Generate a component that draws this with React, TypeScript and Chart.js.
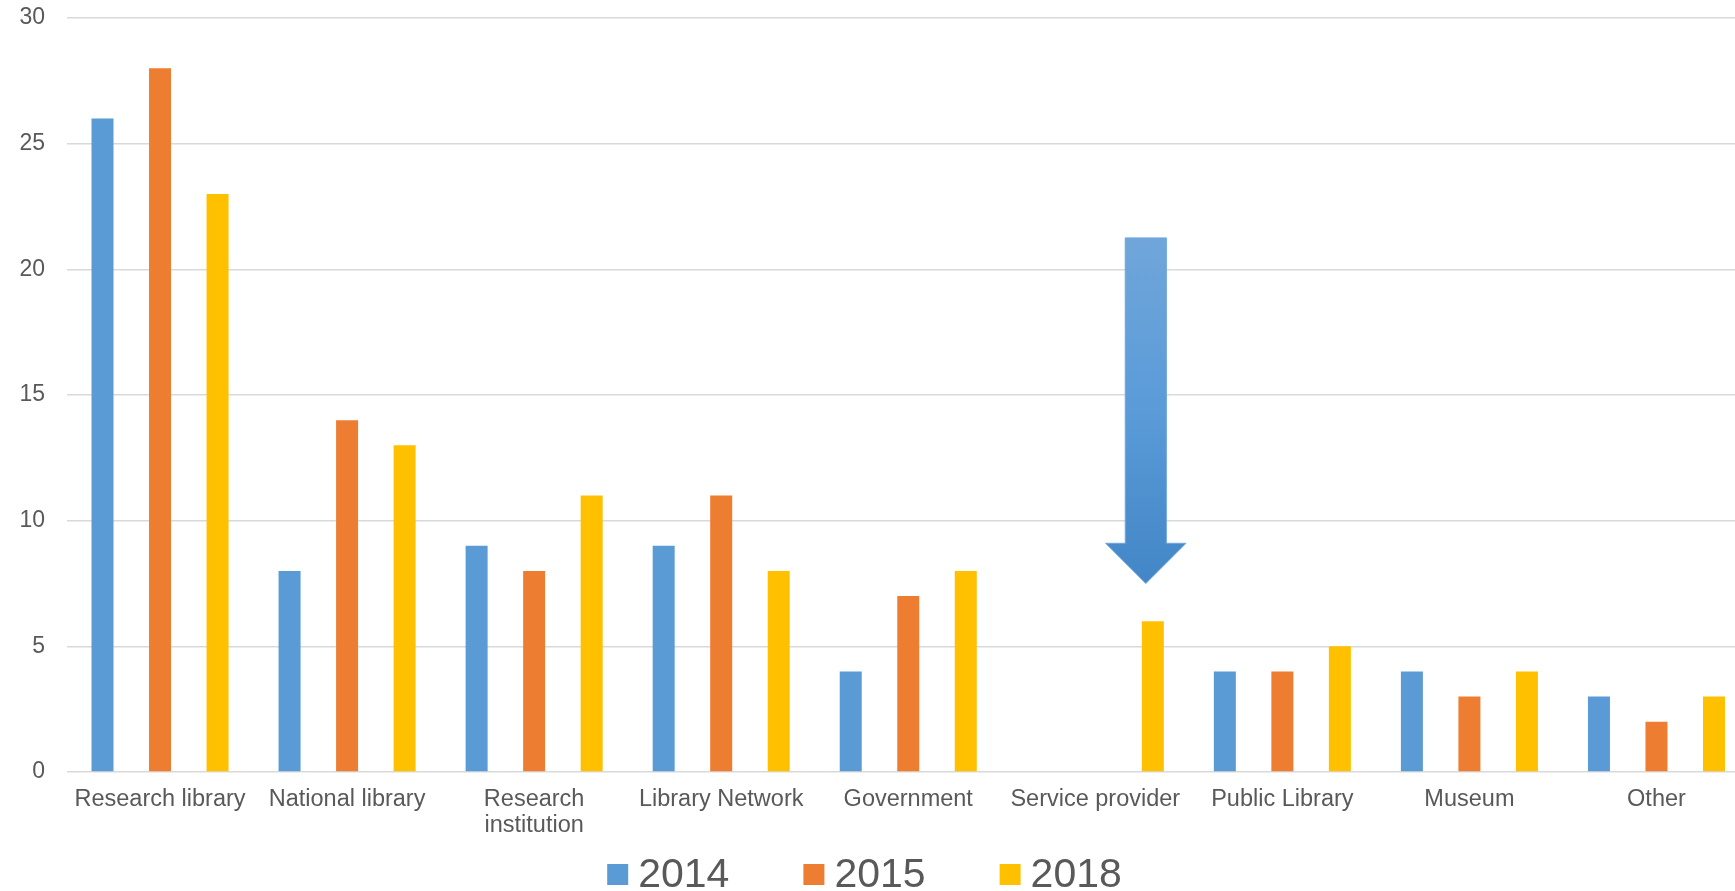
import React, { useEffect, useRef } from "react";
import { Chart, registerables } from "chart.js";

Chart.register(...registerables);

const categories: (string | string[])[] = [
  "Research library",
  "National library",
  ["Research", "institution"],
  "Library Network",
  "Government",
  "Service provider",
  "Public Library",
  "Museum",
  "Other",
];

const seriesLabels = ["2014", "2015", "2018"];
const values2014: (number | null)[] = [26, 8, 9, 9, 4, null, 4, 4, 3];
const values2015: (number | null)[] = [28, 14, 8, 11, 7, null, 4, 3, 2];
const values2018: (number | null)[] = [23, 13, 11, 8, 8, 6, 5, 4, 3];
const seriesColors = ["#5B9BD5", "#ED7D31", "#FFC000"];

const yTicks = [0, 5, 10, 15, 20, 25, 30];

// decorative arrow annotation, placed in data units
const arrowCategoryIndex = 5;
const arrowCategoryOffset = 0.27; // fraction of category width from its centre
const arrowTopValue = 21.25;
const arrowHeadStartValue = 9.1;
const arrowTipValue = 7.5;
const arrowShaftFrac = 0.22; // of category width
const arrowHeadFrac = 0.43;

const FONT = "'Liberation Sans', Arial, sans-serif";

const arrowPlugin = {
  id: "arrowAnnotation",
  afterDatasetsDraw(chart: any) {
    const { ctx, scales } = chart;
    const xs = scales.x;
    const ys = scales.y;
    const catW = xs.getPixelForValue(1) - xs.getPixelForValue(0);
    const cx = xs.getPixelForValue(arrowCategoryIndex) + arrowCategoryOffset * catW;
    const yTop = ys.getPixelForValue(arrowTopValue);
    const yHead = ys.getPixelForValue(arrowHeadStartValue);
    const yTip = ys.getPixelForValue(arrowTipValue);
    const sw = (arrowShaftFrac * catW) / 2;
    const hw = (arrowHeadFrac * catW) / 2;
    ctx.save();
    const g = ctx.createLinearGradient(0, yTop, 0, yTip);
    g.addColorStop(0, "#70A6DA");
    g.addColorStop(0.5, "#5A9BD8");
    g.addColorStop(1, "#4386C6");
    ctx.beginPath();
    ctx.moveTo(cx - sw, yTop);
    ctx.lineTo(cx + sw, yTop);
    ctx.lineTo(cx + sw, yHead);
    ctx.lineTo(cx + hw, yHead);
    ctx.lineTo(cx, yTip);
    ctx.lineTo(cx - hw, yHead);
    ctx.lineTo(cx - sw, yHead);
    ctx.closePath();
    ctx.fillStyle = g;
    ctx.fill();
    ctx.lineWidth = 1;
    ctx.strokeStyle = "#6FA8DC";
    ctx.stroke();
    ctx.restore();
  },
};

// legend drawn from the datasets (box, small gap, large text)
const LEGEND_FONT_SIZE = 41;
const LEGEND_BOX = 21;
const LEGEND_BOX_GAP = 10;
const LEGEND_ITEM_GAP = 74;
const LEGEND_CENTER_Y = 874.5;

const legendPlugin = {
  id: "customLegend",
  afterDraw(chart: any) {
    const { ctx } = chart;
    const ds = chart.data.datasets;
    ctx.save();
    ctx.font = `${LEGEND_FONT_SIZE}px ${FONT}`;
    ctx.textBaseline = "middle";
    ctx.textAlign = "left";
    const widths = ds.map((d: any) => ctx.measureText(d.label).width);
    const total =
      widths.reduce((a: number, w: number) => a + LEGEND_BOX + LEGEND_BOX_GAP + w, 0) +
      LEGEND_ITEM_GAP * (ds.length - 1);
    const visibleWidth = 1735;
    let x = visibleWidth / 2 - 3 - total / 2;
    ds.forEach((d: any, i: number) => {
      ctx.fillStyle = d.backgroundColor;
      ctx.fillRect(x, LEGEND_CENTER_Y - LEGEND_BOX / 2, LEGEND_BOX, LEGEND_BOX);
      x += LEGEND_BOX + LEGEND_BOX_GAP;
      ctx.fillStyle = "#595959";
      ctx.fillText(d.label, x, LEGEND_CENTER_Y + 1);
      x += widths[i] + LEGEND_ITEM_GAP;
    });
    ctx.restore();
  },
};

export default function App() {
  const ref = useRef<HTMLCanvasElement | null>(null);

  useEffect(() => {
    if (!ref.current) return;
    const datasets = [values2014, values2015, values2018].map((d, i) => ({
      label: seriesLabels[i],
      data: d,
      backgroundColor: seriesColors[i],
      borderWidth: 0,
      categoryPercentage: 0.9225,
      barPercentage: 0.3826,
    }));
    const chart = new Chart(ref.current, {
      type: "bar",
      data: { labels: categories as any, datasets },
      plugins: [arrowPlugin, legendPlugin],
      options: {
        responsive: false,
        animation: false,
        devicePixelRatio: 1,
        layout: { padding: { top: 18, left: 0, right: 0, bottom: 0 } },
        plugins: {
          tooltip: { enabled: false },
          legend: { display: false },
        },
        scales: {
          x: {
            grid: { display: false, drawTicks: false },
            border: { display: false },
            ticks: {
              color: "#595959",
              font: { size: 23.5, family: FONT, lineHeight: 1.12 },
              padding: 14,
              maxRotation: 0,
              autoSkip: false,
            },
            afterFit(scale: any) {
              scale.height = 119;
              scale.paddingLeft = 0;
              scale.paddingRight = 0;
            },
          },
          y: {
            min: 0,
            max: 30,
            afterBuildTicks(scale: any) {
              scale.ticks = yTicks.map((v) => ({ value: v }));
            },
            grid: { color: "#D9D9D9", lineWidth: 1.5, drawTicks: false },
            border: { display: false },
            ticks: {
              color: "#595959",
              font: { size: 23, family: FONT },
              padding: 21.5,
            },
            afterFit(scale: any) {
              scale.width = 66.5;
              scale.paddingTop = 0;
              scale.paddingBottom = 0;
            },
          },
        },
      },
    });
    return () => chart.destroy();
  }, []);

  return (
    <div
      style={{
        position: "fixed",
        left: 0,
        top: 0,
        width: 1735,
        height: 891,
        overflow: "hidden",
        background: "#fff",
      }}
    >
      <canvas
        ref={ref}
        width={1750}
        height={891}
        style={{ width: 1750, height: 891, display: "block" }}
      />
    </div>
  );
}
